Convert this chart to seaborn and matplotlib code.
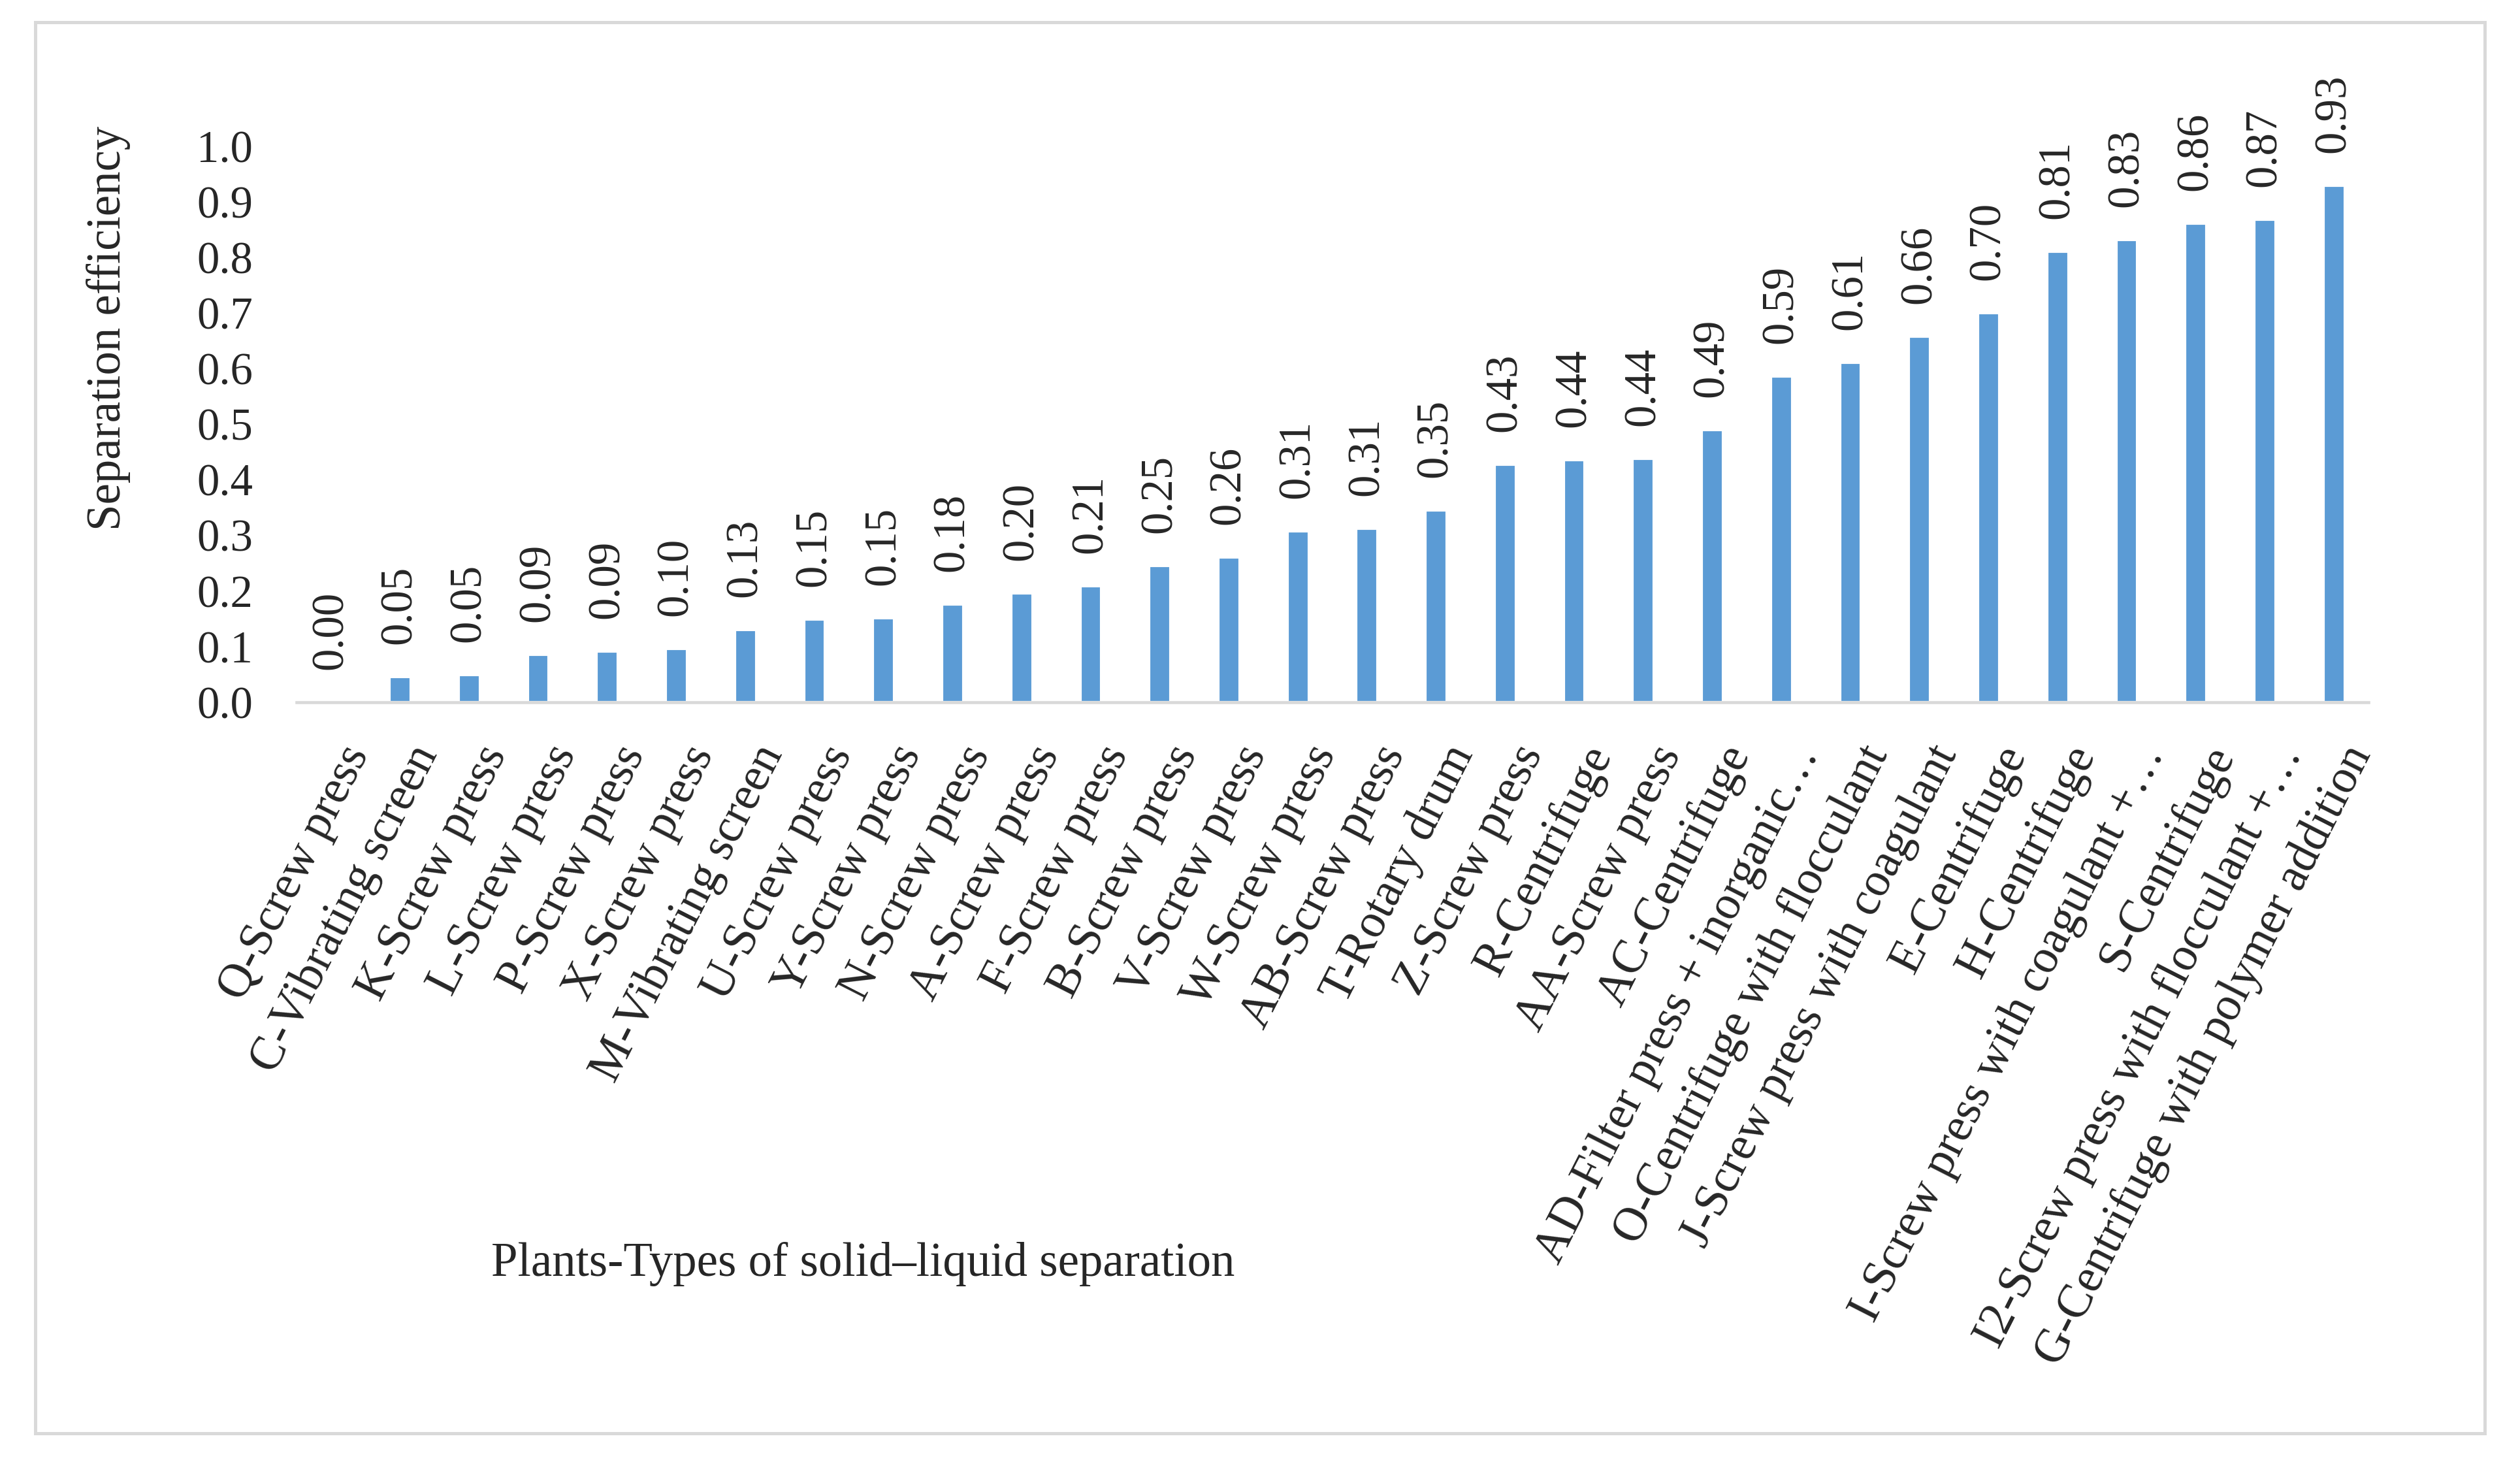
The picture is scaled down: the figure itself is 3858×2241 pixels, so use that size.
import matplotlib
matplotlib.use("Agg")
import matplotlib.pyplot as plt
import matplotlib.transforms as mtransforms
from matplotlib.patches import Rectangle
import seaborn as sns
import pandas as pd

# plants / separation types, sorted by efficiency
plants = [
    "Q-Screw press", "C-Vibrating screen", "K-Screw press", "L-Screw press",
    "P-Screw press", "X-Screw press", "M-Vibrating screen", "U-Screw press",
    "Y-Screw press", "N-Screw press", "A-Screw press", "F-Screw press",
    "B-Screw press", "V-Screw press", "W-Screw press", "AB-Screw press",
    "T-Rotary drum", "Z-Screw press", "R-Centrifuge", "AA-Screw press",
    "AC-Centrifuge", "AD-Filter press + inorganic\u2026",
    "O-Centrifuge with flocculant", "J-Screw press with coagulant",
    "E-Centrifuge", "H-Centrifuge", "I-Screw press with coagulant +\u2026",
    "S-Centrifuge", "I2-Screw press with flocculant +\u2026",
    "G-Centrifuge with polymer addition",
]
efficiency = [
    0.00, 0.046, 0.049, 0.086, 0.092, 0.096, 0.131, 0.149,
    0.152, 0.176, 0.196, 0.209, 0.246, 0.261, 0.308, 0.312,
    0.346, 0.428, 0.436, 0.438, 0.490, 0.586, 0.611, 0.658,
    0.700, 0.811, 0.832, 0.861, 0.868, 0.930,
]
y_ticks = [0.0, 0.1, 0.2, 0.3, 0.4, 0.5, 0.6, 0.7, 0.8, 0.9, 1.0]

df = pd.DataFrame({"plant": plants, "eff": efficiency})

sns.set_theme(style="white")
plt.rcParams["font.family"] = ["Liberation Serif", "DejaVu Serif"]

W, H = 3858, 2241
fig = plt.figure(figsize=(W / 300, H / 300), dpi=300)
ax = fig.add_axes([454 / W, 1 - 1075 / H, (3626 - 454) / W, (1075 - 224) / H])

sns.barplot(data=df, x="plant", y="eff", color="#5B9BD5", width=0.31,
            saturation=1, ax=ax)

ax.set_ylim(0, 1.0)
ax.set_xlim(-0.5, len(plants) - 0.5)
ax.set_yticks(y_ticks)
ax.set_yticklabels([f"{t:.1f}" for t in y_ticks], fontsize=16.5)
ax.tick_params(axis="y", length=0, pad=16)
ax.tick_params(axis="x", length=0, pad=17)
ax.set_xlabel("")
ax.set_ylabel("")

for s in ["top", "right", "left"]:
    ax.spines[s].set_visible(False)
ax.spines["bottom"].set_color("#d9d9d9")
ax.spines["bottom"].set_linewidth(1.1)

# rotated category labels
ax.set_xticks(range(len(plants)))
ax.set_xticklabels(plants, rotation=63, ha="right", va="center",
                   rotation_mode="anchor", fontsize=17.5)
offset = mtransforms.ScaledTranslation(10 / 72, 0, fig.dpi_scale_trans)
for lab in ax.get_xticklabels():
    lab.set_transform(lab.get_transform() + offset)

# value labels
for i, v in enumerate(efficiency):
    ax.annotate(f"{v:.2f}", (i, v), xytext=(0, 12), textcoords="offset points",
                rotation=90, ha="center", va="bottom", fontsize=16.5)

fig.text(166 / W, 1 - 502 / H, "Separation efficiency", rotation=90,
         ha="center", va="center", fontsize=17.5)
fig.text(1321 / W, 1 - 1935 / H, "Plants-Types of solid\u2013liquid separation",
         ha="center", va="center", fontsize=17.5)

# outer frame
fig.patches.append(Rectangle((54 / W, 1 - 2194 / H), (3804 - 54) / W,
                             (2194 - 34) / H, transform=fig.transFigure,
                             fill=False, edgecolor="#d9d9d9", linewidth=1.2))

fig.savefig("out.png", dpi=300, facecolor="white")
